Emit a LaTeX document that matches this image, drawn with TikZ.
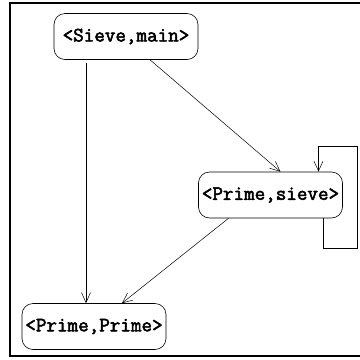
\documentclass[tikz,border=0pt]{standalone}
\usepackage{fontspec}
\setmonofont{Latin Modern Mono}[AutoFakeBold=2.5]
\usetikzlibrary{arrows.meta}
\tikzset{
	state/.style={draw, rounded corners=11pt, line width=0.6pt, minimum width=144pt, minimum height=46pt, inner sep=0pt, font=\ttfamily\bfseries\fontsize{20.5}{22}\selectfont},
	edge/.style={line width=0.5pt, -{Straight Barb[length=10pt,width=9pt]}},
}
\begin{document}
\begin{tikzpicture}[x=1pt,y=-1pt]
		
		\useasboundingbox (0,0) rectangle (360,360);
		\draw[line width=2.2pt] (10,3) rectangle (370,356);
		
		\node[state] (sm) at (126,36.5) {<Sieve,main>};
		\node[state] (ps) at (270.5,195) {<Prime,sieve>};
		\node[state] (pp) at (94,326.5) {<Prime,Prime>};
		
		\coordinate (loopbr) at (357.5,248);
		\coordinate (looptr) at (357.5,146);
		
		\draw[edge, shorten <=3pt] ([xshift=-40pt]sm.south) -- ([xshift=-8pt]pp.north);
		\draw[edge] ([xshift=24pt]sm.south) -- ([xshift=10pt]ps.north);
		\draw[edge] ([xshift=-42pt]ps.south) -- ([xshift=28pt]pp.north);
		\draw[edge] ([xshift=52.5pt]ps.south) |- (loopbr) |- (looptr) -| ([xshift=48pt]ps.north);
		
	\end{tikzpicture}
\end{document}
